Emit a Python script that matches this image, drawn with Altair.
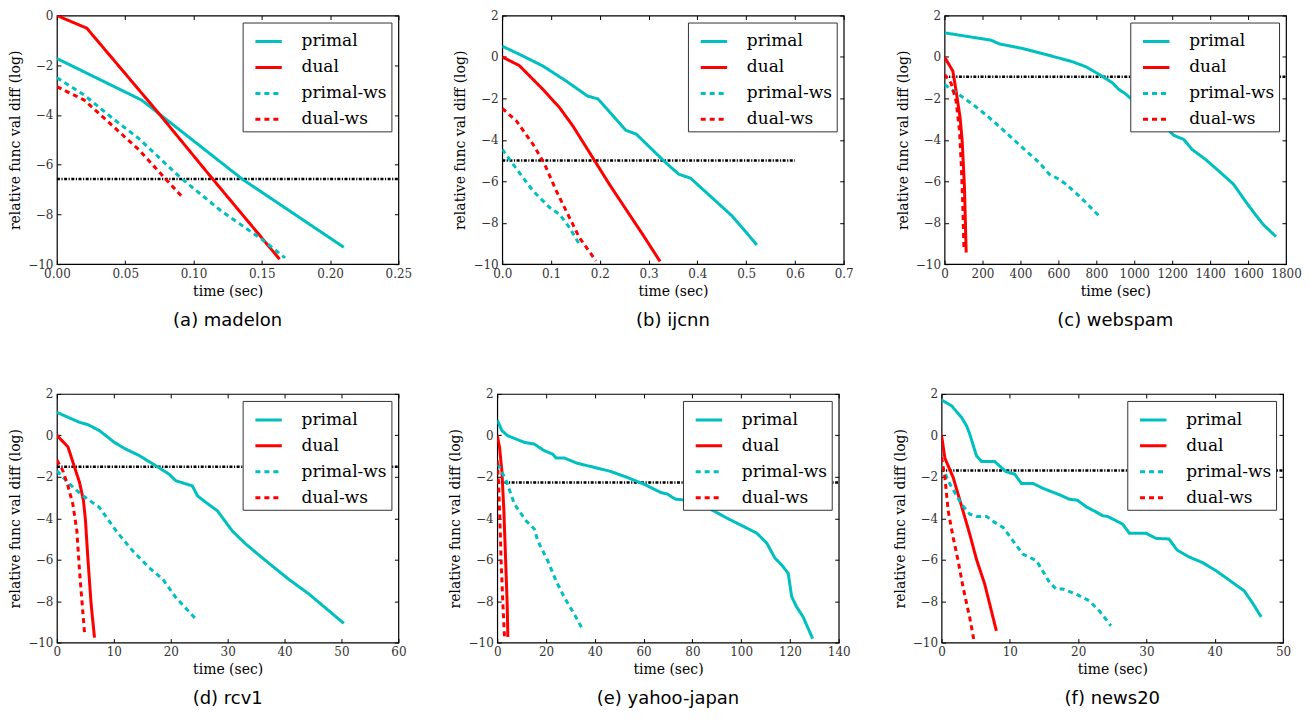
import altair as alt
import pandas as pd

SERIES = ["primal", "dual", "primal-ws", "dual-ws"]
SERIES_COLORS = ["#00bfbf", "#ff0000", "#00bfbf", "#ff0000"]
SERIES_DASHES = [[1, 0], [1, 0], [5, 4], [5, 4]]

# ---------------- (a) madelon ----------------
madelon_primal_t = [0.0, 0.062, 0.072, 0.1357, 0.21]
madelon_primal_v = [-1.73, -3.4, -3.83, -6.58, -9.32]
madelon_dual_t = [0.0, 0.0219, 0.0725, 0.1138, 0.163]
madelon_dual_v = [0.0, -0.51, -3.8, -6.56, -9.8]
madelon_pws_t = [0.0, 0.02, 0.04, 0.06, 0.09, 0.12, 0.15, 0.167]
madelon_pws_v = [-2.5, -3.2, -4.1, -4.95, -6.5, -7.85, -9.0, -9.75]
madelon_dws_t = [0.0, 0.02, 0.04, 0.06, 0.08, 0.091]
madelon_dws_v = [-2.86, -3.4, -4.4, -5.4, -6.6, -7.25]
madelon_level = -6.58
madelon_xticks = [0.0, 0.05, 0.10, 0.15, 0.20, 0.25]
madelon_yticks = [-10, -8, -6, -4, -2, 0]

# ---------------- (b) ijcnn ----------------
ijcnn_primal_t = [0.0, 0.036, 0.0836, 0.131, 0.175, 0.196, 0.2535, 0.275, 0.335, 0.362, 0.386, 0.471, 0.522]
ijcnn_primal_v = [0.52, 0.12, -0.44, -1.16, -1.89, -2.02, -3.54, -3.73, -5.1, -5.66, -5.85, -7.67, -9.07]
ijcnn_dual_t = [0.0, 0.0347, 0.0836, 0.1176, 0.1448, 0.1855, 0.2195, 0.2535, 0.2875, 0.3235]
ijcnn_dual_v = [0.0, -0.41, -1.57, -2.45, -3.33, -4.86, -6.14, -7.35, -8.55, -9.87]
ijcnn_pws_t = [0.0, 0.0224, 0.0632, 0.0972, 0.1176, 0.138, 0.158]
ijcnn_pws_v = [-4.46, -5.18, -6.47, -7.27, -7.6, -8.24, -9.04]
ijcnn_dws_t = [0.0, 0.029, 0.0632, 0.087, 0.111, 0.131, 0.158, 0.192]
ijcnn_dws_v = [-2.48, -3.09, -4.22, -5.18, -6.47, -7.43, -8.71, -9.84]
ijcnn_level = -5.0
ijcnn_level_end = 0.6
ijcnn_xticks = [0.0, 0.1, 0.2, 0.3, 0.4, 0.5, 0.6, 0.7]

# ---------------- (c) webspam ----------------
webspam_primal_t = [0, 245, 289, 411, 534, 674, 744, 814, 884, 919, 954, 1007, 1112, 1208, 1261, 1304, 1375, 1445, 1523, 1585, 1637, 1681, 1747]
webspam_primal_v = [1.165, 0.81, 0.63, 0.41, 0.12, -0.23, -0.47, -0.84, -1.24, -1.57, -1.78, -2.21, -2.93, -3.78, -3.98, -4.46, -4.94, -5.5, -6.14, -6.95, -7.59, -8.1, -8.67]
webspam_dual_t = [0, 44, 61, 82, 93, 105, 114]
webspam_dual_v = [0.0, -0.69, -1.65, -2.93, -4.06, -6.3, -9.44]
webspam_pws_t = [0, 79, 149, 236, 324, 411, 499, 552, 604, 639, 709, 814]
webspam_pws_v = [-1.33, -1.84, -2.29, -2.93, -3.65, -4.38, -5.1, -5.66, -5.9, -6.14, -6.7, -7.67]
webspam_dws_t = [0, 35, 61, 79, 88, 96, 102]
webspam_dws_v = [-0.84, -1.28, -2.13, -3.57, -5.18, -7.1, -9.28]
webspam_level = -0.956
webspam_xticks = [0, 200, 400, 600, 800, 1000, 1200, 1400, 1600, 1800]

# ---------------- (d) rcv1 ----------------
rcv1_primal_t = [0, 3.97, 5.43, 7.47, 10.1, 12.1, 14.5, 17.4, 19.7, 20.9, 23.8, 24.7, 26.2, 28.2, 30.8, 33.2, 36.7, 40.7, 44.3, 50.4]
rcv1_primal_v = [1.11, 0.63, 0.52, 0.23, -0.34, -0.66, -0.98, -1.47, -1.87, -2.19, -2.44, -2.92, -3.24, -3.64, -4.61, -5.25, -6.05, -6.94, -7.66, -9.07]
rcv1_dual_t = [0, 1.93, 3.97, 4.67, 5.02, 5.43, 6.01, 6.6]
rcv1_dual_v = [0.0, -0.55, -2.27, -3.16, -4.12, -5.9, -8.15, -9.76]
rcv1_pws_t = [0, 2.22, 4.55, 7.47, 10.4, 13.3, 16.2, 18.6, 20.9, 24.7]
rcv1_pws_v = [-1.71, -2.35, -2.91, -3.48, -4.61, -5.57, -6.38, -6.94, -7.83, -8.95]
rcv1_dws_t = [0, 1.05, 1.93, 2.8, 3.5, 3.97, 4.44, 4.85]
rcv1_dws_v = [-1.19, -1.71, -2.43, -3.32, -4.6, -6.54, -8.15, -9.52]
rcv1_level = -1.51
rcv1_xticks = [0, 10, 20, 30, 40, 50, 60]

# ---------------- (e) yahoo-japan ----------------
yahoo_primal_t = [0, 1.9, 4.35, 11.2, 15.2, 19.3, 22.7, 24.1, 27.5, 32.9, 39.7, 46.5, 53.3, 60.1, 66.9, 69.7, 73.1, 76.5, 83.3, 88.7, 94.1, 100.9, 106.4, 110.5, 113.9, 116.6, 119.3, 120.7, 122.7, 125.4, 129.3]
yahoo_primal_v = [0.74, 0.23, -0.02, -0.34, -0.42, -0.74, -0.9, -1.09, -1.09, -1.35, -1.54, -1.74, -2.03, -2.35, -2.75, -2.83, -3.08, -3.11, -3.32, -3.64, -3.99, -4.39, -4.72, -5.2, -5.93, -6.25, -6.66, -7.78, -8.27, -8.76, -9.81]
yahoo_dual_t = [0, 0.95, 1.9, 2.72, 3.4, 4.08, 4.35]
yahoo_dual_v = [0.0, -0.58, -1.71, -3.64, -5.9, -8.15, -9.73]
yahoo_pws_t = [0.27, 3.67, 7.07, 11.8, 15.2, 16.6, 20.7, 24.1, 27.5, 31.6, 34.6]
yahoo_pws_v = [-1.38, -2.19, -3.32, -4.12, -4.52, -5.09, -6.05, -7.02, -7.82, -8.63, -9.28]
yahoo_dws_t = [0, 0.54, 1.09, 1.63, 2.31, 2.99]
yahoo_dws_v = [-1.22, -2.35, -4.12, -6.22, -8.15, -9.76]
yahoo_level = -2.28
yahoo_xticks = [0, 20, 40, 60, 80, 100, 120, 140]

# ---------------- (f) news20 ----------------
news20_primal_t = [0, 1.46, 2.92, 3.65, 4.13, 5.11, 5.84, 7.78, 8.75, 9.48, 10.7, 11.7, 13.4, 14.8, 17.3, 18.7, 19.9, 21.2, 22.6, 23.6, 24.3, 26.5, 27.5, 29.9, 31.4, 33.3, 34.5, 36.2, 38.2, 40.1, 42.6, 44.3, 45.5, 46.8]
news20_primal_v = [1.71, 1.43, 0.87, 0.47, 0.06, -0.98, -1.26, -1.26, -1.55, -1.76, -1.87, -2.32, -2.32, -2.55, -2.87, -3.08, -3.13, -3.45, -3.69, -3.88, -3.91, -4.28, -4.72, -4.72, -4.97, -5.0, -5.54, -5.86, -6.14, -6.51, -7.1, -7.5, -8.07, -8.76]
news20_dual_t = [0, 0.49, 1.7, 2.92, 4.13, 5.11, 6.32, 8.03]
news20_dual_v = [0.0, -1.1, -2.03, -3.4, -4.77, -5.98, -7.18, -9.44]
news20_pws_t = [0, 1.22, 2.92, 4.13, 5.11, 6.57, 7.78, 9.0, 10.46, 11.9, 12.9, 13.9, 14.8, 15.8, 16.8, 17.8, 19.7, 21.6, 23.1, 24.8]
news20_pws_v = [-1.47, -2.35, -3.32, -3.8, -3.91, -3.91, -4.2, -4.44, -5.09, -5.73, -5.89, -6.05, -6.54, -7.1, -7.42, -7.42, -7.66, -7.98, -8.47, -9.19]
news20_dws_t = [0, 0.49, 0.97, 1.7, 2.43, 3.16, 4.13, 4.77]
news20_dws_v = [-1.06, -2.03, -3.64, -4.93, -6.06, -7.35, -8.8, -9.95]
news20_level = -1.70
news20_xticks = [0, 10, 20, 30, 40, 50]

common_yticks = [-10, -8, -6, -4, -2, 0, 2]

PLOT_W = 342
PLOT_H = 249
SERIF = "DejaVu Serif"


def make_panel(caption, series_data, level, level_end, xticks, yticks, xfmt):
    rows = []
    for name, (ts, vs) in zip(SERIES, series_data):
        for i, (t, v) in enumerate(zip(ts, vs)):
            rows.append({"t": t, "v": v, "series": name, "idx": i})
    df = pd.DataFrame(rows)
    xdom = [xticks[0], xticks[-1]]
    ydom = [yticks[0], yticks[-1]]
    xscale = alt.Scale(domain=xdom, nice=False, zero=False)
    yscale = alt.Scale(domain=ydom, nice=False, zero=False)
    xaxis = alt.Axis(
        title="time (sec)", values=xticks, format=xfmt,
        grid=True, gridColor="black", gridOpacity=1, gridWidth=1,
        gridDash=[4, PLOT_H - 8, 4, 0], ticks=False, domain=False,
        labelFont=SERIF, labelFontSize=12, labelColor="#333", labelPadding=4,
        labelOverlap=False, labelSeparation=0,
        titleFont=SERIF, titleFontSize=14, titleFontWeight="normal",
        titleColor="black", titlePadding=5, labelFlush=False,
    )
    yaxis = alt.Axis(
        title="relative func val diff (log)", values=yticks, format="d",
        grid=True, gridColor="black", gridOpacity=1, gridWidth=1,
        gridDash=[4, PLOT_W - 8, 4, 0], ticks=False, domain=False,
        labelFont=SERIF, labelFontSize=12, labelColor="#333", labelPadding=4,
        labelOverlap=False,
        titleFont=SERIF, titleFontSize=14, titleFontWeight="normal",
        titleColor="black", titlePadding=5, labelFlush=False,
    )
    legend = alt.Legend(
        title=None, orient="top-right", offset=7,
        labelFont=SERIF, labelFontSize=17, labelColor="black",
        symbolType="stroke", symbolSize=700, symbolStrokeWidth=3,
        symbolOffset=7, labelOffset=18, rowPadding=3,
        padding=4, strokeColor="#333", fillColor="white",
        cornerRadius=0,
    )
    lines = alt.Chart(df).mark_line(strokeWidth=3, strokeCap="butt", clip=True).encode(
        x=alt.X("t:Q", scale=xscale, axis=xaxis),
        y=alt.Y("v:Q", scale=yscale, axis=yaxis),
        color=alt.Color("series:N", scale=alt.Scale(domain=SERIES, range=SERIES_COLORS), legend=legend),
        strokeDash=alt.StrokeDash("series:N", scale=alt.Scale(domain=SERIES, range=SERIES_DASHES), legend=legend),
        order="idx:Q",
    )
    ref = alt.Chart(pd.DataFrame({"x0": [xdom[0]], "x1": [level_end], "y": [level]})).mark_rule(
        color="black", strokeWidth=2.5, strokeDash=[3, 1.5, 1.2, 1.5]
    ).encode(
        x=alt.X("x0:Q", scale=xscale, axis=xaxis),
        x2="x1:Q",
        y=alt.Y("y:Q", scale=yscale, axis=yaxis),
    )
    return alt.layer(ref, lines).properties(
        width=PLOT_W, height=PLOT_H,
        title=alt.TitleParams(text=caption, orient="bottom", anchor="middle",
                              font="DejaVu Sans", fontSize=18, fontWeight="normal",
                              color="black", offset=14),
    )


pa = make_panel("(a) madelon",
                [(madelon_primal_t, madelon_primal_v), (madelon_dual_t, madelon_dual_v),
                 (madelon_pws_t, madelon_pws_v), (madelon_dws_t, madelon_dws_v)],
                madelon_level, madelon_xticks[-1], madelon_xticks, madelon_yticks, ".2f")
pb = make_panel("(b) ijcnn",
                [(ijcnn_primal_t, ijcnn_primal_v), (ijcnn_dual_t, ijcnn_dual_v),
                 (ijcnn_pws_t, ijcnn_pws_v), (ijcnn_dws_t, ijcnn_dws_v)],
                ijcnn_level, ijcnn_level_end, ijcnn_xticks, common_yticks, ".1f")
pc = make_panel("(c) webspam",
                [(webspam_primal_t, webspam_primal_v), (webspam_dual_t, webspam_dual_v),
                 (webspam_pws_t, webspam_pws_v), (webspam_dws_t, webspam_dws_v)],
                webspam_level, webspam_xticks[-1], webspam_xticks, common_yticks, "d")
pd_ = make_panel("(d) rcv1",
                 [(rcv1_primal_t, rcv1_primal_v), (rcv1_dual_t, rcv1_dual_v),
                  (rcv1_pws_t, rcv1_pws_v), (rcv1_dws_t, rcv1_dws_v)],
                 rcv1_level, rcv1_xticks[-1], rcv1_xticks, common_yticks, "d")
pe = make_panel("(e) yahoo-japan",
                [(yahoo_primal_t, yahoo_primal_v), (yahoo_dual_t, yahoo_dual_v),
                 (yahoo_pws_t, yahoo_pws_v), (yahoo_dws_t, yahoo_dws_v)],
                yahoo_level, yahoo_xticks[-1], yahoo_xticks, common_yticks, "d")
pf = make_panel("(f) news20",
                [(news20_primal_t, news20_primal_v), (news20_dual_t, news20_dual_v),
                 (news20_pws_t, news20_pws_v), (news20_dws_t, news20_dws_v)],
                news20_level, news20_xticks[-1], news20_xticks, common_yticks, "d")

row1 = alt.hconcat(pa, pb, pc, spacing=41).resolve_scale(
    color="independent", strokeDash="independent", x="independent", y="independent"
).resolve_legend(color="independent", strokeDash="independent")
row2 = alt.hconcat(pd_, pe, pf, spacing=41).resolve_scale(
    color="independent", strokeDash="independent", x="independent", y="independent"
).resolve_legend(color="independent", strokeDash="independent")

chart = alt.vconcat(row1, row2, spacing=56).resolve_scale(
    color="independent", strokeDash="independent", x="independent", y="independent"
).resolve_legend(color="independent", strokeDash="independent").properties(
    padding={"left": 0, "top": 0, "right": 0, "bottom": 0}, background="white"
).configure_view(stroke="black", strokeWidth=1.2).configure_axis(labelOverlap=False)

chart.save("out.html", embed_options={"renderer": "svg", "actions": False})
